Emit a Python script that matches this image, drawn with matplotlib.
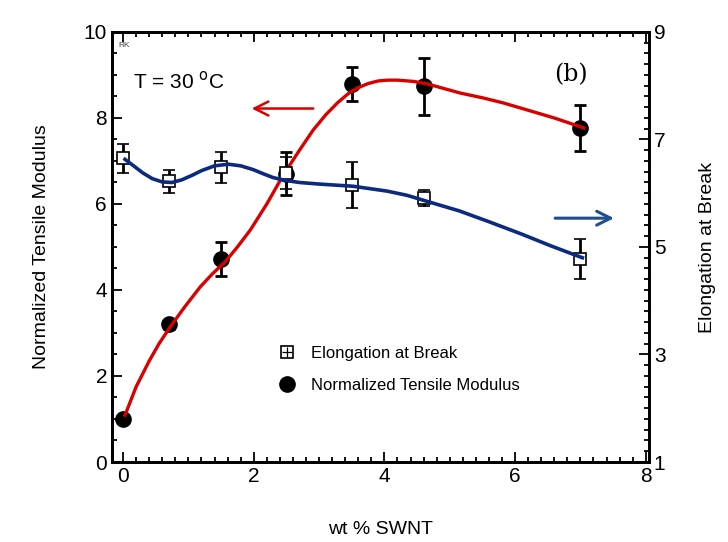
"""Tensile modulus & elongation at break vs SWNT loading."""

import matplotlib
matplotlib.use("Agg")
import matplotlib.pyplot as plt
from matplotlib.legend_handler import HandlerTuple
from matplotlib.ticker import MultipleLocator, FixedLocator

plt.rcParams["font.family"] = ["Liberation Sans", "DejaVu Sans"]

# measured points
wt_pct = [0.0, 0.7, 1.5, 2.5, 3.5, 4.6, 7.0]
modulus = [1.0, 3.2, 4.72, 6.7, 8.79, 8.74, 7.77]
modulus_err = [0.1, 0.1, 0.39, 0.5, 0.39, 0.66, 0.54]
elongation = [6.65, 6.22, 6.48, 6.37, 6.15, 5.91, 4.78]
elongation_err = [0.27, 0.21, 0.29, 0.3, 0.43, 0.15, 0.37]

# guide-to-the-eye curves
mod_curve_x = [0.03, 0.2, 0.4, 0.55, 0.72, 0.95, 1.18, 1.37, 1.56, 1.75,
               1.95, 2.2, 2.45, 2.7, 2.91, 3.1, 3.28, 3.45, 3.59, 3.75,
               3.9, 4.05, 4.2, 4.45, 4.66, 4.9, 5.16, 5.5, 5.82, 6.2,
               6.6, 7.05]
mod_curve_y = [1.09, 1.75, 2.35, 2.75, 3.14, 3.62, 4.07, 4.38, 4.65, 5.0,
               5.4, 6.0, 6.67, 7.25, 7.72, 8.07, 8.35, 8.57, 8.70, 8.80,
               8.86, 8.88, 8.88, 8.85, 8.79, 8.69, 8.58, 8.47, 8.35, 8.18,
               8.0, 7.77]
elo_curve_x = [0.03, 0.15, 0.3, 0.45, 0.6, 0.75, 0.9, 1.05, 1.2, 1.4,
               1.61, 1.8, 1.99, 2.15, 2.3, 2.48, 2.7, 3.01, 3.52, 4.04,
               4.35, 4.65, 5.15, 5.6, 6.1, 6.55, 7.03]
elo_curve_y = [6.63, 6.52, 6.38, 6.27, 6.21, 6.20, 6.25, 6.33, 6.42, 6.51,
               6.54, 6.51, 6.44, 6.36, 6.29, 6.24, 6.20, 6.17, 6.13, 6.04,
               5.96, 5.85, 5.67, 5.47, 5.24, 5.02, 4.80]

RED = "#d90000"
NAVY = "#0b2a80"
ARROW_BLUE = "#1f4f8f"

fig = plt.figure(figsize=(7.28, 5.42), dpi=100)
ax = fig.add_axes([0.1538, 0.1476, 0.7377, 0.7934])
ax2 = ax.twinx()

# left axis: modulus
ax.errorbar(wt_pct, modulus, yerr=modulus_err, fmt="o", color="black",
            markersize=11, elinewidth=2, capsize=4, capthick=2, zorder=3)
ax.plot(mod_curve_x, mod_curve_y, color=RED, linewidth=2.4, zorder=4,
        solid_joinstyle="round")

# right axis: elongation
ax2.errorbar(wt_pct, elongation, yerr=elongation_err, fmt="s", color="black",
             markerfacecolor="white", markeredgewidth=1.2, markersize=9,
             elinewidth=2, capsize=4, capthick=2, zorder=3)
ax2.plot(wt_pct, elongation, "+", color="black", markersize=6.5, mew=0.9, zorder=3)
ax2.plot(elo_curve_x, elo_curve_y, color=NAVY, linewidth=2.6, zorder=4,
         solid_joinstyle="round")

ax.set_xlim(-0.17, 8.05)
ax.set_ylim(0, 10)
ax2.set_ylim(1, 9)

ax.xaxis.set_major_locator(FixedLocator([0, 2, 4, 6, 8]))
ax.xaxis.set_minor_locator(MultipleLocator(0.2))
ax.yaxis.set_major_locator(MultipleLocator(2))
ax.yaxis.set_minor_locator(MultipleLocator(0.5))
ax2.yaxis.set_major_locator(FixedLocator([1, 3, 5, 7, 9]))
ax2.yaxis.set_minor_locator(MultipleLocator(0.2))

ax.tick_params(axis="both", which="both", direction="in", top=True, right=False,
               labelsize=15, width=1.3)
ax.tick_params(which="major", length=7)
ax.tick_params(which="minor", length=3.5)
ax2.tick_params(axis="y", which="both", direction="in", labelsize=15, width=1.3)
ax2.tick_params(which="major", length=7)
ax2.tick_params(which="minor", length=3.5)
for a in (ax, ax2):
    for s in a.spines.values():
        s.set_linewidth(2)

ax.set_xlabel("wt % SWNT", fontsize=14, labelpad=25)
ax.set_ylabel("Normalized Tensile Modulus", fontsize=14, labelpad=24)
ax2.set_ylabel("Elongation at Break", fontsize=14, labelpad=24)

ax.text(0.012, 0.965, "RK", transform=ax.transAxes, fontsize=6, color="#444444")
ax.text(0.04, 0.885, "T = 30 $^{\\mathrm{o}}$C", transform=ax.transAxes,
        fontsize=15, va="center")
ax.text(0.855, 0.9, "(b)", transform=ax.transAxes, fontsize=17,
        family="DejaVu Serif", va="center", ha="center")

ax.annotate("", xy=(0.255, 0.822), xytext=(0.38, 0.822), xycoords="axes fraction",
            arrowprops=dict(arrowstyle="->,head_length=1.0,head_width=0.5",
                            color=RED, lw=1.8))
ax.annotate("", xy=(0.94, 0.567), xytext=(0.82, 0.567), xycoords="axes fraction",
            arrowprops=dict(arrowstyle="->,head_length=1.0,head_width=0.5",
                            color=ARROW_BLUE, lw=2.2))

# legend
h_sq = ax.plot([], [], "s", color="black", markerfacecolor="white",
               markersize=9, markeredgewidth=1.2)[0]
h_plus = ax.plot([], [], "+", color="black", markersize=6.5, mew=0.9)[0]
h_dot = ax.plot([], [], "o", color="black", markersize=11)[0]
ax.legend([(h_sq, h_plus), h_dot],
          ["Elongation at Break", "Normalized Tensile Modulus"],
          handler_map={tuple: HandlerTuple(ndivide=1)},
          loc="upper left", bbox_to_anchor=(0.28, 0.305), frameon=False,
          fontsize=12, handlelength=1.2, labelspacing=1.0, handletextpad=0.8)

fig.savefig("out.png", dpi=100)
